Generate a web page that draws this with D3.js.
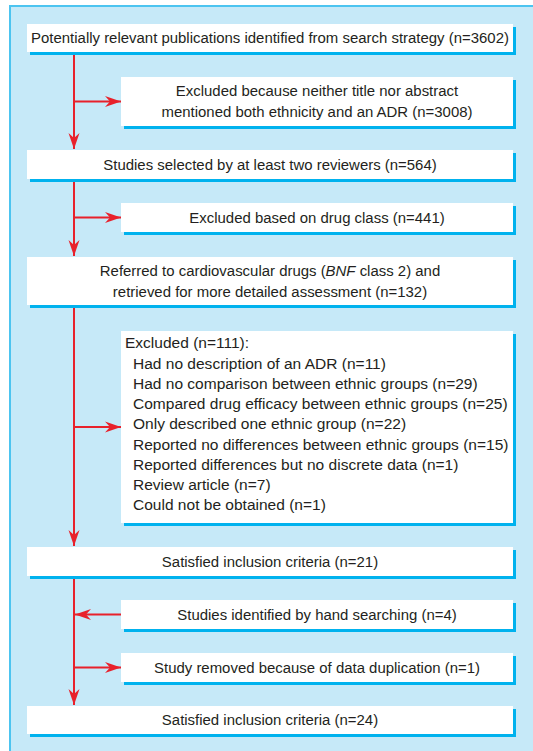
<!DOCTYPE html>
<html>
<head>
<meta charset="utf-8">
<script src="https://cdn.jsdelivr.net/npm/d3@7"></script>
<style>
  body { margin: 0; background: #fff; }
  text { font-family: "Liberation Sans", Arial, sans-serif; fill: #231f20; font-size: 15.5px; }
</style>
</head>
<body>
<div id="chart"></div>
<script>
// Flow of studies (text only, positions are worked out below)
const mainLabels = [
    ["Potentially relevant publications identified from search strategy (n=3602)"],
    ["Studies selected by at least two reviewers (n=564)"],
    ["Referred to cardiovascular drugs (|BNF| class 2) and", "retrieved for more detailed assessment (n=132)"],
    ["Satisfied inclusion criteria (n=21)"],
    ["Satisfied inclusion criteria (n=24)"]
];
const sideLabels = [
    ["Excluded because neither title nor abstract", "mentioned both ethnicity and an ADR (n=3008)"],
    ["Excluded based on drug class (n=441)"],
    ["Studies identified by hand searching (n=4)"],
    ["Study removed because of data duplication (n=1)"]
];
const excludedTitle = "Excluded (n=111):";
const excludedReasons = [
    "Had no description of an ADR (n=11)",
    "Had no comparison between ethnic groups (n=29)",
    "Compared drug efficacy between ethnic groups (n=25)",
    "Only described one ethnic group (n=22)",
    "Reported no differences between ethnic groups (n=15)",
    "Reported differences but no discrete data (n=1)",
    "Review article (n=7)",
    "Could not be obtained (n=1)"
];

const width = 533, height = 751;
const trunkX = 74;
const mainX = 27, sideX = 121, boxRight = 513;
const lineGap = 21;
const red = "#e8212b", shadow = "#00b2ee";

// vertical layout: [top, bottom] of each box
const mainY = [[24, 52], [150, 179], [257, 305], [547, 576], [706, 734]];
const sideY = [[77, 126], [203, 232], [600, 629], [653, 682]];
const excludedY = [331, 523];

const svg = d3.select("#chart").append("svg")
    .attr("width", width)
    .attr("height", height);

// condensed look: squeeze a regular sans horizontally
const probe = svg.append("text").text(mainLabels[0][0]);
const squeeze = 478 / probe.node().getComputedTextLength();
probe.remove();

// panel
svg.append("rect")
    .attr("x", 10).attr("y", 6)
    .attr("width", width).attr("height", height)
    .attr("fill", "#c6e9f8")
    .attr("stroke", "#4cc4f0")
    .attr("stroke-width", 2);

const defs = svg.append("defs");
defs.append("marker")
    .attr("id", "head")
    .attr("markerUnits", "userSpaceOnUse")
    .attr("viewBox", "-17 -6 18 12")
    .attr("refX", 0).attr("refY", 0)
    .attr("markerWidth", 18).attr("markerHeight", 12)
    .attr("orient", "auto")
    .append("path")
    .attr("d", "M0,0 L-16,-5.5 L-11,0 L-16,5.5 Z")
    .attr("fill", red);

function drawBox(x, y0, y1) {
    svg.append("rect")
        .attr("x", x + 3).attr("y", y0 + 3)
        .attr("width", boxRight - x).attr("height", y1 - y0)
        .attr("fill", shadow);
    svg.append("rect")
        .attr("x", x).attr("y", y0)
        .attr("width", boxRight - x).attr("height", y1 - y0)
        .attr("fill", "#fff");
}

function label(x, y, anchor, k = squeeze) {
    return svg.append("g")
        .attr("transform", `translate(${x},${y}) scale(${k},1)`)
        .append("text")
        .attr("dy", "0.35em")
        .attr("text-anchor", anchor);
}

function centredText(lines, x, y0, y1) {
    const cx = (x + boxRight) / 2;
    const mid = (y0 + y1) / 2;
    lines.forEach((line, i) => {
        const t = label(cx, mid + (i - (lines.length - 1) / 2) * lineGap, "middle");
        // |word| marks italic
        line.split("|").forEach((part, j) => {
            t.append("tspan")
                .style("font-style", j % 2 ? "italic" : "normal")
                .text(part);
        });
    });
}

function arrow(x1, y1, x2, y2) {
    svg.append("line")
        .attr("x1", x1).attr("y1", y1)
        .attr("x2", x2).attr("y2", y2)
        .attr("stroke", red)
        .attr("stroke-width", 2)
        .attr("marker-end", "url(#head)");
}

// trunk arrows between main boxes
for (let i = 0; i < mainY.length - 1; i++) {
    arrow(trunkX, mainY[i][1], trunkX, mainY[i + 1][0] - 1);
}

// side arrows
const sideAll = [sideY[0], sideY[1], excludedY, sideY[2], sideY[3]];
const dirAll = [1, 1, 1, -1, 1];
sideAll.forEach((b, i) => {
    const y = (b[0] + b[1]) / 2;
    if (dirAll[i] > 0) arrow(trunkX, y, sideX, y);
    else arrow(sideX, y, trunkX + 1, y);
});

// boxes
mainY.forEach((b, i) => {
    drawBox(mainX, b[0], b[1]);
    centredText(mainLabels[i], mainX, b[0], b[1]);
});
sideY.forEach((b, i) => {
    drawBox(sideX, b[0], b[1]);
    centredText(sideLabels[i], sideX, b[0], b[1]);
});

// list of exclusion reasons, set a touch wider than the rest
drawBox(sideX, excludedY[0], excludedY[1]);
const listY = d3.scaleLinear()
    .domain([0, excludedReasons.length])
    .range([343, 343 + excludedReasons.length * 20.25]);
const listK = squeeze * 1.04;
label(125, listY(0), "start", listK).text(excludedTitle);
excludedReasons.forEach((d, i) => {
    label(133, listY(i + 1), "start", listK).text(d);
});
</script>
</body>
</html>
